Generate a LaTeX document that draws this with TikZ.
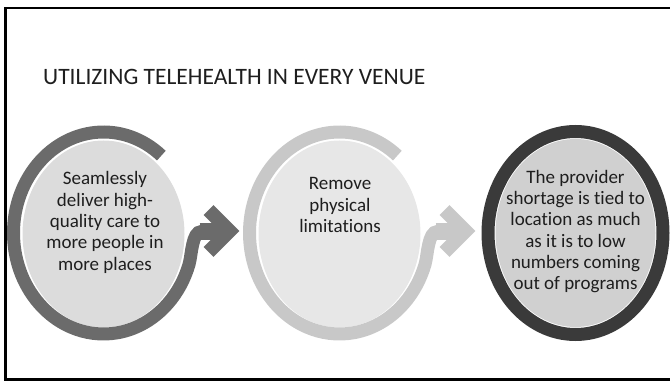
\documentclass[tikz,border=0pt]{standalone}
\usepackage{fontspec}
\setmainfont{Carlito}[RawFeature=-liga, RawFeature=-clig, RawFeature=-calt, RawFeature=-dlig]
\usetikzlibrary{shapes.geometric,calc}
\definecolor{ringA}{HTML}{6B6B6B}
\definecolor{fillA}{HTML}{DCDCDC}
\definecolor{ringB}{HTML}{C8C8C8}
\definecolor{fillB}{HTML}{E7E7E7}
\definecolor{ringC}{HTML}{3A3A3A}
\definecolor{fillC}{HTML}{D0D0D0}
\definecolor{textc}{HTML}{1E1E1E}
\tikzset{
  disc/.style={ellipse, inner sep=0pt, minimum width=162pt, minimum height=187pt},
  ringline/.style={line width=13pt, line cap=butt},
  chevron/.style={line width=14pt, line cap=butt, miter limit=10},
  bodytext/.style={anchor=north, inner sep=0pt, align=center, text=textc,
     font=\fontsize{19}{21.3}\selectfont},
}
\begin{document}
\begin{tikzpicture}[x=1pt,y=1pt]
\useasboundingbox (0,0) rectangle (670,381);
% frame
\draw[line width=2.6pt, black] (676,373) -- (5.3,373) -- (5.3,1.5) -- (676,1.5);
% title
\node[anchor=base west, inner sep=0pt, text=textc, font=\fontsize{23.5}{28}\selectfont] (title) at (43,296) {UTILIZING TELEHEALTH IN EVERY VENUE};

% discs
\node[disc, fill=fillA] (c1) at (103.5,147) {};
\node[disc, fill=fillB] (c2) at (339.5,147) {};
\node[disc, fill=fillC, minimum width=160pt, minimum height=188pt] (c3) at (575.5,148) {};

% ring 1 with arrow
\draw[ringA, ringline] ($(c1.center)+(0,1)+(50:90 and 101)$) arc[start angle=50, end angle=342, x radius=90, y radius=101]
   to[out=74, in=180, looseness=0.7] ($(c1.center)+(98,2.5)$) -- ($(c1.center)+(106,2.5)$);
\draw[ringA, line width=17pt, line cap=butt] ($(c1.center)+(96,2.5)$) -- ($(c1.center)+(122,2.5)$);
\draw[ringA, chevron] ($(c1.center)+(105,24)$) -- ($(c1.center)+(126,3)$) -- ($(c1.center)+(105,-18)$);

% ring 2 with arrow
\draw[ringB, ringline] ($(c2.center)+(0,1)+(50:90 and 101)$) arc[start angle=50, end angle=342, x radius=90, y radius=101]
   to[out=74, in=180, looseness=0.7] ($(c2.center)+(98,2.5)$) -- ($(c2.center)+(106,2.5)$);
\draw[ringB, line width=17pt, line cap=butt] ($(c2.center)+(96,2.5)$) -- ($(c2.center)+(122,2.5)$);
\draw[ringB, chevron] ($(c2.center)+(105,24)$) -- ($(c2.center)+(126,3)$) -- ($(c2.center)+(105,-18)$);

% ring 3 (closed)
\draw[ringC, line width=13pt] (c3.center) ellipse[x radius=87.5, y radius=101.5];

% texts
\node[bodytext] (t1) at (105,209.5) {Seamlessly\\deliver high-\\quality care to\\more people in\\more places};
\node[bodytext] (t2) at (340,203.5) {Remove\\physical\\limitations};
\node[bodytext] (t3) at (575.5,211) {The provider\\shortage is tied to\\location as much\\as it is to low\\numbers coming\\out of programs};
\end{tikzpicture}
\end{document}
